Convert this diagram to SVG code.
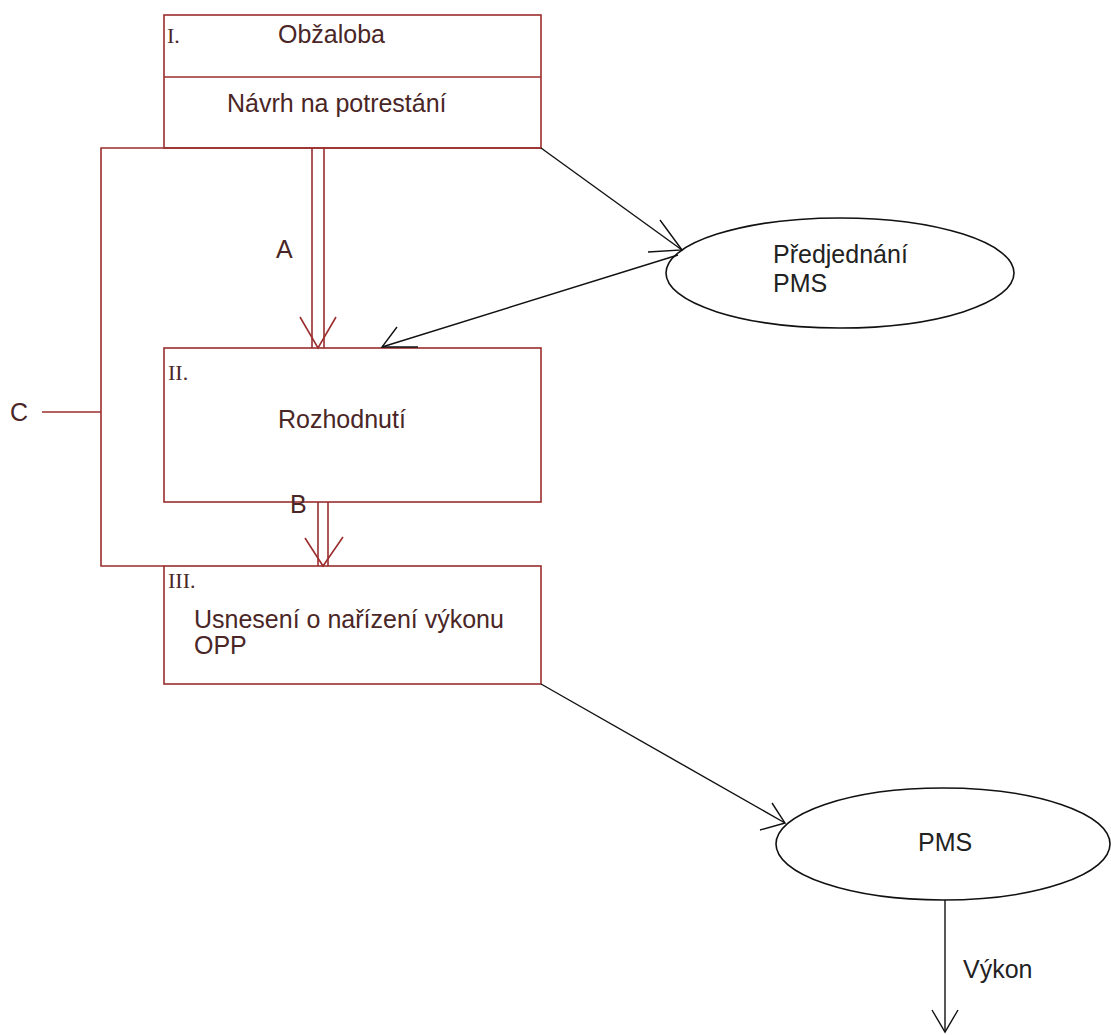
<svg xmlns="http://www.w3.org/2000/svg" width="1111" height="1035" viewBox="0 0 1111 1035">
<style>
.box{fill:none;stroke:#9b2d2d;stroke-width:1.6}
.red{fill:none;stroke:#9b2d2d;stroke-width:1.6}
.blk{fill:none;stroke:#111;stroke-width:1.4}
.ell{fill:#fff;stroke:#111;stroke-width:1.6}
.t{font-family:"Liberation Sans",Arial,sans-serif;font-size:25px;fill:#4a2626}
.tb{font-family:"Liberation Sans",Arial,sans-serif;font-size:25px;fill:#222}
.rn{font-family:"Liberation Serif","Times New Roman",serif;font-size:22px;fill:#4a2626}
</style>
<rect width="1111" height="1035" fill="#fff"/>
<g id="frameC">
<polyline class="red" points="541,148 101,148 101,566 164,566"/>
<line class="red" x1="42" y1="412" x2="101" y2="412"/>
<text class="t" x="10" y="421">C</text>
</g>
<g id="box1">
<rect class="box" x="164" y="15" width="377" height="133"/>
<line class="box" x1="164" y1="77" x2="541" y2="77"/>
<text class="rn" x="167" y="43">I.</text>
<text class="t" x="278" y="43">Obžaloba</text>
<text class="t" x="227" y="112">Návrh na potrestání</text>
</g>
<g id="box2">
<rect class="box" x="164" y="348" width="377" height="154"/>
<text class="rn" x="168" y="380">II.</text>
<text class="t" x="278" y="428">Rozhodnutí</text>
</g>
<g id="box3">
<rect class="box" x="164" y="566" width="377" height="118"/>
<text class="rn" x="168" y="588">III.</text>
<text class="t" x="194" y="628">Usnesení o nařízení výkonu</text>
<text class="t" x="194" y="654">OPP</text>
</g>
<g id="predjednani">
<ellipse class="ell" cx="840" cy="273" rx="174" ry="55"/>
<text class="tb" x="773" y="263">Předjednání</text>
<text class="tb" x="773" y="292">PMS</text>
</g>
<g id="pms">
<ellipse class="ell" cx="943" cy="844" rx="167" ry="56"/>
<text class="tb" x="918" y="851">PMS</text>
</g>
<g id="connectors">
<line class="red" x1="312" y1="148" x2="312" y2="348"/>
<line class="red" x1="324" y1="148" x2="324" y2="348"/>
<polyline class="red" points="300,317 318,348 336,317"/>
<text class="t" x="276" y="258">A</text>
<line class="red" x1="318" y1="502" x2="318" y2="566"/>
<line class="red" x1="328" y1="502" x2="328" y2="566"/>
<polyline class="red" points="305,538 323,566 343,537"/>
<text class="t" x="290" y="513">B</text>
<line class="blk" x1="541" y1="148" x2="682" y2="250"/>
<polyline class="blk" points="660,220 682,250 648,252"/>
<line class="blk" x1="678" y1="255" x2="382" y2="347"/>
<polyline class="blk" points="397,327 382,347 418,347"/>
<line class="blk" x1="541" y1="684" x2="785" y2="823"/>
<polyline class="blk" points="772,803 785,823 760,830"/>
<line class="blk" x1="945" y1="900" x2="945" y2="1032"/>
<polyline class="blk" points="932,1010 945,1032 958,1010"/>
<text class="tb" x="963" y="978">Výkon</text>
</g>
</svg>
